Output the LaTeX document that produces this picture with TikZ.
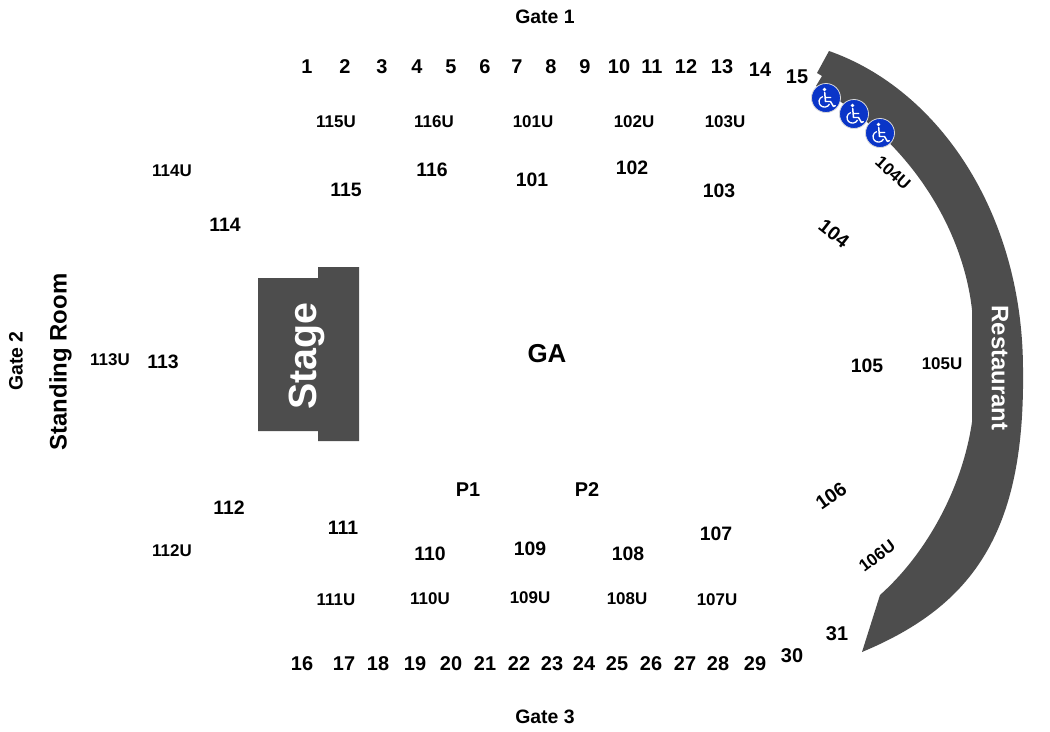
\documentclass[tikz,border=0pt]{standalone}
\usepackage{fontspec}
\setmainfont{Liberation Sans}
\definecolor{band}{HTML}{4D4D4D}
\definecolor{wblue}{HTML}{0A35C8}
\tikzset{
 x=1bp,y=-1bp,
 num/.style={font=\fontsize{20}{22}\selectfont\bfseries,inner sep=0pt,text=black,yshift=-0.7pt},
 sec/.style={font=\fontsize{19.5}{21}\selectfont\bfseries,inner sep=0pt,text=black,yshift=-0.7pt},
 upp/.style={font=\fontsize{17}{19}\selectfont\bfseries,inner sep=0pt,text=black},
 gate/.style={font=\fontsize{19.5}{21}\selectfont\bfseries,inner sep=0pt,text=black},
 venue/.style={fill=band,draw=none},
 wheel/.style={circle,fill=wblue,draw=white!85!black,line width=0.8pt,minimum size=29bp,inner sep=0pt},
 wicon/.pic={
  \draw[white,line width=1.5pt,line cap=round,line join=round]
    (-1.3,-6) -- (-0.5,3) -- (4.5,3) -- (7.5,8) -- (9.2,7.2)
    (-1,-1) -- (4.5,-1);
  \draw[white,line width=1.3pt] (-3.2,-2) .. controls (-7.5,-0.5) and (-8,4.5) .. (-5.5,7) .. controls (-3,9.5) and (2,9) .. (3.5,5.5);
  \fill[white] (-1.6,-9) circle (1.9);
 }
}
\begin{document}
\begin{tikzpicture}
\useasboundingbox (0,0) rectangle (1050,732);
\fill[white] (0,0) rectangle (1050,732);
% restaurant band
\fill[venue] (829,51) .. controls (940,90) and (1023,215) .. (1023,370)
  .. controls (1025,530) and (975,605) .. (862,652)
  -- (880,595)
  .. controls (925,555) and (962,490) .. (972,422)
  -- (972,310)
  .. controls (965,245) and (925,150) .. (816,86)
  -- (822,76) -- (817,73) -- cycle;
% stage
\fill[venue] (258,278) -- (318,278) -- (318,267) -- (359,267) -- (359,441) -- (318,441) -- (318,431) -- (258,431) -- cycle;
\node[rotate=90,text=white,font=\fontsize{39.5}{42}\selectfont\bfseries,inner sep=0pt] (stage) at (307,356) {Stage};
\node[rotate=-90,text=white,font=\fontsize{24}{26}\selectfont\bfseries,inner sep=0pt] (rest) at (1000,368) {Restaurant};
% wheelchair
\node[wheel] (w1) at (826,98) {};
\node[wheel] (w2) at (854,114) {};
\node[wheel] (w3) at (880,133) {};
\pic at (826,98.5) {wicon};
\pic at (854,114.5) {wicon};
\pic at (880,133.5) {wicon};
% gates and titles
\node[gate] (g1) at (545,17) {Gate 1};
\node[gate] (g3) at (545,717) {Gate 3};
\node[gate,rotate=90] (g2) at (16,361) {Gate 2};
\node[rotate=90,font=\fontsize{24}{26}\selectfont\bfseries,inner sep=0pt] (sr) at (60.5,362) {Standing Room};
\node[font=\fontsize{26}{28}\selectfont\bfseries,inner sep=0pt] (ga) at (547,354) {GA};
\node[num] (p1) at (468,489) {P1};
\node[num] (p2) at (587,489) {P2};
% numbered rows
\foreach \n/\x/\y in {1/307/66,2/345/66,3/382/66,4/417/66,5/451/66,6/485/66,7/517/66,8/551/66,9/585/66,10/619/66,11/652/66,12/686/66,13/722/66,14/760/69,15/797/76,
 16/302/663,17/344/663,18/378/663,19/415/663,20/451/663,21/485/663,22/519/663,23/552/663,24/584/663,25/617/663,26/651/663,27/685/663,28/718/663,29/755/663,30/792/655,31/837/633}
 \node[num] (s\n) at (\x,\y) {\n};
% sections
\foreach \n/\x/\y in {115/346/189,116/432/169,101/532/179,102/632/167,103/719/190,114/225/224,113/163/361,105/867/365,112/229/507,111/343/527,110/430/553,109/530/548,108/628/553,107/716/533}
 \node[sec] (b\n) at (\x,\y) {\n};
\node[sec,rotate=-38] (b104) at (834,233) {104};
\node[sec,rotate=35] (b106) at (831,495) {106};
% upper
\foreach \n/\x/\y in {115U/336/122,116U/434/122,101U/533/122,102U/634/122,103U/725/122,114U/172/171,113U/110/360,105U/942/364,112U/172/551,111U/336/600,110U/430/599,109U/530/598,108U/627/599,107U/717/600}
 \node[upp] (u\n) at (\x,\y) {\n};
\node[upp,rotate=-42] (u104U) at (893,173) {104U};
\node[upp,rotate=37] (u106U) at (877,556) {106U};
\end{tikzpicture}
\end{document}
